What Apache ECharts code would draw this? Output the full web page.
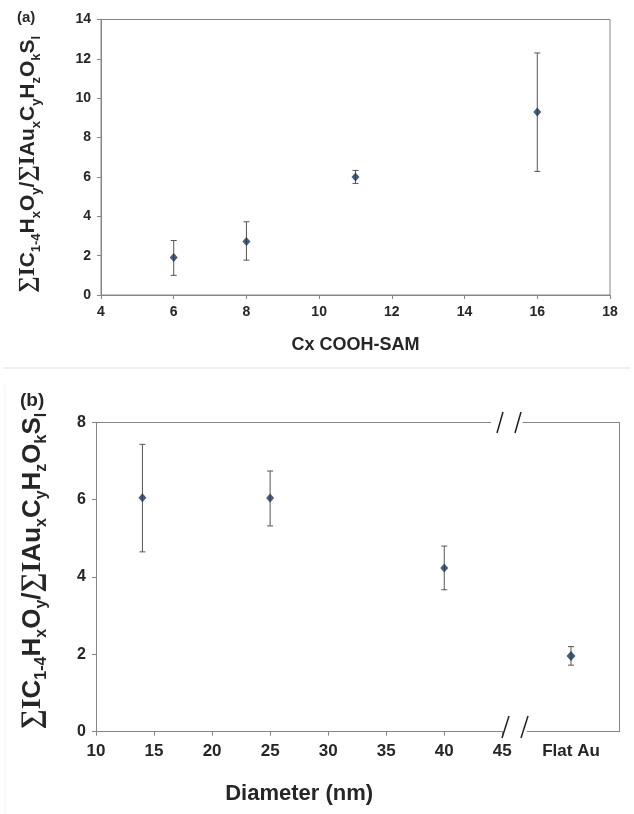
<!DOCTYPE html>
<html>
<head>
<meta charset="utf-8">
<script src="https://cdn.jsdelivr.net/npm/echarts@6/dist/echarts.min.js"></script>
<style>
html,body{margin:0;padding:0;background:#fff;}
#c{width:634px;height:814px;}
</style>
</head>
<body>
<div id="c"></div>
<script>
// Panel (a): Cx COOH-SAM
const aChain = [6, 8, 11, 16];
const aRatio = [1.9, 2.72, 6.0, 9.3];
const aLow = [1.0, 1.77, 5.67, 6.28];
const aHigh = [2.77, 3.72, 6.33, 12.3];

// Panel (b): Diameter
const bDiam = [14, 25, 40];
const bRatio = [6.05, 6.04, 4.23];
const bLow = [4.65, 5.32, 3.67];
const bHigh = [7.43, 6.74, 4.80];

const flatCat = ['Flat Au'];
const flatRatio = [1.96];
const flatLow = [1.72];
const flatHigh = [2.2];

const FONT = 'Liberation Sans, Arial, sans-serif';
const AXIS = '#868686';
const TXT = '#262626';
const MARK = '#1c3555';
const ERR = '#555555';

function yName(main, sub) {
  return {
    s: {fontFamily: 'Liberation Serif, DejaVu Serif, serif', fontSize: main + 2, fontWeight: 'bold', color: TXT, lineHeight: main + 8, verticalAlign: 'middle'},
    m: {fontFamily: FONT, fontSize: main, fontWeight: 'bold', color: TXT, lineHeight: main + 8, verticalAlign: 'middle'},
    b: {fontFamily: FONT, fontSize: sub, fontWeight: 'bold', color: TXT, lineHeight: sub, verticalAlign: 'bottom'}
  };
}
const nameStr = '{s|\u2211I}{m|C}{b|1-4}{m|H}{b|x}{m|O}{b|y}{m|/}{s|\u2211I}{m|Au}{b|x}{m|C}{b|y}{m|H}{b|z}{m|O}{b|k}{m|S}{b|l}';

function errRender(params, api) {
  const x = api.value(0);
  const lo = api.coord([x, api.value(1)]);
  const hi = api.coord([x, api.value(2)]);
  const w = 3;
  const st = {stroke: ERR, lineWidth: 1};
  return {
    type: 'group',
    children: [
      {type: 'line', shape: {x1: lo[0], y1: lo[1], x2: hi[0], y2: hi[1]}, style: st},
      {type: 'line', shape: {x1: lo[0] - w, y1: lo[1], x2: lo[0] + w, y2: lo[1]}, style: st},
      {type: 'line', shape: {x1: hi[0] - w, y1: hi[1], x2: hi[0] + w, y2: hi[1]}, style: st}
    ]
  };
}

const axisLineStyle = {lineStyle: {color: AXIS, width: 1}};
const tick = {show: true, length: 4, lineStyle: {color: AXIS}};

const chart = echarts.init(document.getElementById('c'), null, {renderer: 'canvas'});
chart.setOption({
  animation: false,
  backgroundColor: '#fff',
  title: [
    {text: '(a)', left: 12, top: 5, textStyle: {fontFamily: FONT, fontSize: 15, fontWeight: 'bold', color: TXT}},
    {text: '(b)', left: 15, top: 386, textStyle: {fontFamily: FONT, fontSize: 19, fontWeight: 'bold', color: TXT}}
  ],
  grid: [
    {left: 101, top: 19.5, width: 509, height: 275.5, show: true, borderColor: AXIS, borderWidth: 1},
    {left: 96, top: 422.3, width: 406.3, height: 309.4},
    {left: 523, top: 422.3, width: 96, height: 309.4}
  ],
  xAxis: [
    {gridIndex: 0, type: 'value', min: 4, max: 18, interval: 2,
     axisLine: axisLineStyle, axisTick: tick, splitLine: {show: false},
     axisLabel: {fontFamily: FONT, fontSize: 14, fontWeight: 'bold', color: TXT, margin: 10},
     name: 'Cx COOH-SAM', nameLocation: 'middle', nameGap: 41,
     nameTextStyle: {fontFamily: FONT, fontSize: 18, fontWeight: 'bold', color: TXT}},
    {gridIndex: 1, type: 'value', min: 10, max: 45, interval: 5, position: 'bottom',
     axisLine: axisLineStyle, axisTick: tick, splitLine: {show: false},
     axisLabel: {fontFamily: FONT, fontSize: 17, fontWeight: 'bold', color: TXT, margin: 11},
     name: 'Diameter (nm)', nameLocation: 'middle', nameGap: 51,
     nameTextStyle: {fontFamily: FONT, fontSize: 22, fontWeight: 'bold', color: TXT}},
    {gridIndex: 1, type: 'value', min: 10, max: 45, position: 'top',
     axisLine: axisLineStyle, axisTick: {show: false}, axisLabel: {show: false}, splitLine: {show: false}},
    {gridIndex: 2, type: 'category', data: flatCat, position: 'bottom',
     axisLine: axisLineStyle, axisTick: {show: false}, splitLine: {show: false},
     axisLabel: {fontFamily: FONT, fontSize: 17, fontWeight: 'bold', color: TXT, margin: 11}},
    {gridIndex: 2, type: 'category', data: flatCat, position: 'top',
     axisLine: axisLineStyle, axisTick: {show: false}, axisLabel: {show: false}, splitLine: {show: false}}
  ],
  yAxis: [
    {gridIndex: 0, type: 'value', min: 0, max: 14, interval: 2,
     axisLine: {show: true, lineStyle: {color: AXIS}}, axisTick: tick, splitLine: {show: false},
     axisLabel: {fontFamily: FONT, fontSize: 14, fontWeight: 'bold', color: TXT, margin: 10},
     name: nameStr, nameLocation: 'middle', nameRotate: 90, nameGap: 58,
     nameTextStyle: {rich: yName(21, 13), padding: [0, 14, 0, 0]}},
    {gridIndex: 1, type: 'value', min: 0, max: 8, interval: 2,
     axisLine: {show: true, lineStyle: {color: AXIS}}, axisTick: tick, splitLine: {show: false},
     axisLabel: {fontFamily: FONT, fontSize: 16, fontWeight: 'bold', color: TXT, margin: 10},
     name: nameStr, nameLocation: 'middle', nameRotate: 90, nameGap: 46,
     nameTextStyle: {rich: yName(26, 16), padding: [0, 0, 0, 12]}},
    {gridIndex: 2, type: 'value', min: 0, max: 8, position: 'right',
     axisLine: {show: true, lineStyle: {color: AXIS}}, axisTick: {show: false}, axisLabel: {show: false}, splitLine: {show: false}}
  ],
  series: [
    {type: 'custom', xAxisIndex: 0, yAxisIndex: 0, renderItem: errRender,
     encode: {x: 0, y: [1, 2]}, data: aChain.map((c, i) => [c, aLow[i], aHigh[i]]), z: 2},
    {type: 'scatter', xAxisIndex: 0, yAxisIndex: 0, symbol: 'diamond', symbolSize: [8, 9],
     itemStyle: {color: MARK}, data: aChain.map((c, i) => [c, aRatio[i]]), z: 3},
    {type: 'custom', xAxisIndex: 1, yAxisIndex: 1, renderItem: errRender,
     encode: {x: 0, y: [1, 2]}, data: bDiam.map((d, i) => [d, bLow[i], bHigh[i]]), z: 2},
    {type: 'scatter', xAxisIndex: 1, yAxisIndex: 1, symbol: 'diamond', symbolSize: [8, 9],
     itemStyle: {color: MARK}, data: bDiam.map((d, i) => [d, bRatio[i]]), z: 3},
    {type: 'custom', xAxisIndex: 3, yAxisIndex: 2, renderItem: errRender,
     encode: {x: 0, y: [1, 2]}, data: flatCat.map((c, i) => [c, flatLow[i], flatHigh[i]]), z: 2},
    {type: 'scatter', xAxisIndex: 3, yAxisIndex: 2, symbol: 'diamond', symbolSize: [9, 10],
     itemStyle: {color: MARK}, data: flatCat.map((c, i) => [c, flatRatio[i]]), z: 3}
  ],
  graphic: [
    {type: 'line', shape: {x1: 3, y1: 368, x2: 630, y2: 368}, style: {stroke: '#ebebeb', lineWidth: 1.5}, z: 1},
    {type: 'line', shape: {x1: 5, y1: 385, x2: 5, y2: 814}, style: {stroke: '#f2f2f2', lineWidth: 1}, z: 1},
    // axis break marks
    {type: 'rect', shape: {x: 491, y: 419, width: 12, height: 6}, style: {fill: '#fff'}, z: 10},
    {type: 'line', shape: {x1: 497, y1: 433, x2: 503, y2: 412}, style: {stroke: '#222', lineWidth: 1.5}, z: 11},
    {type: 'line', shape: {x1: 515, y1: 433, x2: 521, y2: 412}, style: {stroke: '#222', lineWidth: 1.5}, z: 11},
    {type: 'rect', shape: {x: 522, y: 729, width: 5, height: 6}, style: {fill: '#fff'}, z: 10},
    {type: 'line', shape: {x1: 502, y1: 738, x2: 509, y2: 716}, style: {stroke: '#222', lineWidth: 1.5}, z: 11},
    {type: 'line', shape: {x1: 521, y1: 738, x2: 528, y2: 716}, style: {stroke: '#222', lineWidth: 1.5}, z: 11}
  ]
});
</script>
</body>
</html>
